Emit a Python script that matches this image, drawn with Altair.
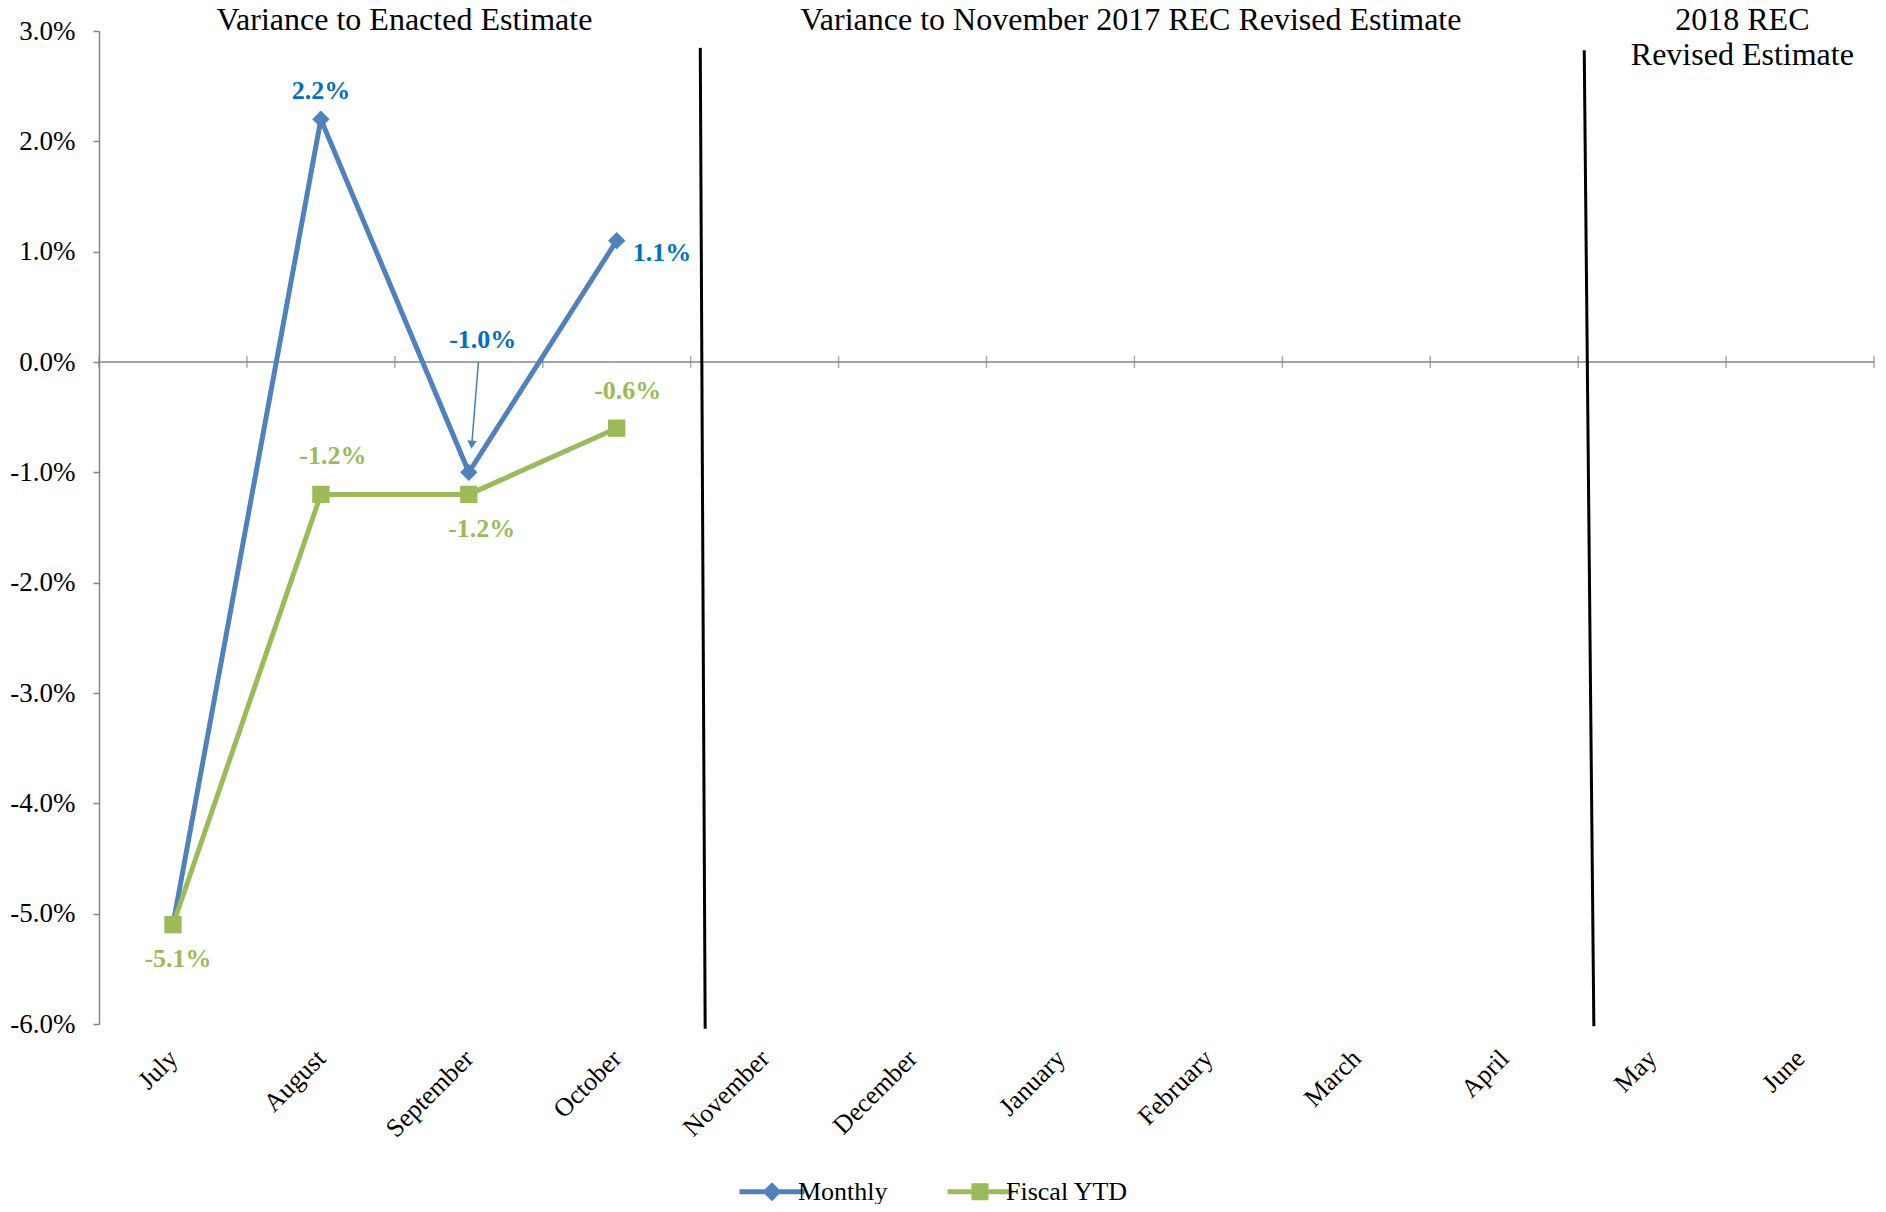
import altair as alt
import pandas as pd

# ---------------- data ----------------
months = ["July", "August", "September", "October", "November", "December",
          "January", "February", "March", "April", "May", "June"]
monthly = [-5.1, 2.2, -1.0, 1.1]
fiscal_ytd = [-5.1, -1.2, -1.2, -0.6]
series_names = ["Monthly", "Fiscal YTD"]
y_ticks = [-6, -5, -4, -3, -2, -1, 0, 1, 2, 3]

# ---------------- styles ----------------
FONT = "Liberation Serif"
line_colors = ["#4F81BD", "#9BBB59"]
label_colors = ["#0070C0", "#9BBB59"]
marker_shapes = ["diamond", "square"]

# label placement: (series, month index) -> (dx, dy, align)
label_offsets = {
    ("Monthly", 1): (0, -28, "center"),
    ("Monthly", 2): (14, -132, "center"),
    ("Monthly", 3): (16, 12, "left"),
    ("Fiscal YTD", 0): (5, 34, "center"),
    ("Fiscal YTD", 1): (12, -38, "center"),
    ("Fiscal YTD", 2): (13, 35, "center"),
    ("Fiscal YTD", 3): (11, -37, "center"),
}

# section headings (x in month-index units, y in percent units, text baseline)
headings = [
    ("Variance to Enacted Estimate", 1.565, 3.0),
    ("Variance to November 2017 REC Revised Estimate", 6.476, 3.0),
    ("2018 REC", 10.61, 3.0),
    ("Revised Estimate", 10.61, 2.68),
]
# divider lines between periods
dividers = [(3.565, 2.847, 3.598, -6.043), (9.541, 2.825, 9.606, -6.02)]
# arrow for the September Monthly label
arrow = (2.065, 0.0, 2.02, -0.75)

rows = []
for name, vals in zip(series_names, [monthly, fiscal_ytd]):
    for i, v in enumerate(vals):
        rows.append({"series": name, "idx": i, "month": months[i], "value": v,
                     "label": f"{v:.1f}%"})
df = pd.DataFrame(rows)

x_scale = alt.Scale(domain=[-0.5, 11.5], nice=False, zero=False)
y_scale = alt.Scale(domain=[-6, 3], nice=False, zero=False)

month_js = "[" + ",".join(f"'{m}'" for m in months) + "]"

x_axis = alt.Axis(values=list(range(12)), labelExpr=f"{month_js}[datum.value]",
                  title=None, domain=False, ticks=False, grid=False,
                  labelAngle=-45, labelAlign="right", labelBaseline="middle",
                  labelFont=FONT, labelFontSize=26, labelColor="black",
                  labelPadding=30, labelOverlap=False)
y_axis = alt.Axis(values=y_ticks,
                  labelExpr="(datum.value < 0 ? '-' : '') + format(abs(datum.value), '.1f') + '%'",
                  title=None, grid=False, domainColor="#868686", domainWidth=1.5,
                  tickColor="#868686", tickWidth=1.5, tickSize=6, labelPadding=18,
                  labelFont=FONT, labelFontSize=27, labelColor="black")


def xq(f):
    return alt.X(f, scale=x_scale, axis=x_axis)


def yq(f):
    return alt.Y(f, scale=y_scale, axis=y_axis)


color_scale = alt.Scale(domain=series_names, range=line_colors)

# legend symbols: a line with the series marker on it
sym_m = "M-1,0L1.32,0M0.16,-0.214L0.374,0L0.16,0.214L-0.054,0Z"
sym_f = "M-1,0L1.32,0M-0.054,-0.214L0.374,-0.214L0.374,0.214L-0.054,0.214Z"
legend_shape_scale = alt.Scale(domain=series_names, range=[sym_m, sym_f])
legend = alt.Legend(
    orient="none", legendX=638, legendY=1130, direction="horizontal", title=None,
    labelFont=FONT, labelFontSize=26, labelColor="black", labelOffset=0,
    symbolSize=3136, symbolStrokeWidth=5, symbolOpacity=1, columnPadding=49, padding=0)

base = alt.Chart(df)

bounds = alt.Chart(pd.DataFrame({"b": [i - 0.5 for i in range(13)], "z": [0] * 13})).mark_tick(
    orient="vertical", size=12, thickness=1.5, color="#868686").encode(
    x=xq("b:Q"), y=yq("z:Q"))

zero_line = alt.Chart(pd.DataFrame({"z": [0]})).mark_rule(
    color="#868686", strokeWidth=1.5).encode(y=yq("z:Q"))

div_df = pd.DataFrame(dividers, columns=["x", "y", "x2", "y2"])
div_rules = alt.Chart(div_df).mark_rule(color="black", strokeWidth=3).encode(
    x=xq("x:Q"), y=yq("y:Q"), x2="x2:Q", y2="y2:Q")

line_layers = []
point_layers = []
for sname, col, shp in zip(series_names, line_colors, marker_shapes):
    sub = base.transform_filter(alt.datum.series == sname)
    line_layers.append(sub.mark_line(strokeWidth=5, color=col).encode(
        x=xq("idx:Q"), y=yq("value:Q"), order=alt.Order("idx:Q")))
    point_layers.append(sub.mark_point(
        filled=True, opacity=1, size=300, shape=shp, color=col).encode(
        x=xq("idx:Q"), y=yq("value:Q")))

# legend-only layer (its marks are clipped away, only the legend remains)
legend_layer = base.mark_point(filled=True, opacity=1, clip=True, strokeWidth=5).encode(
    x=xq("idx:Q"), y=alt.YDatum(40, scale=y_scale, axis=y_axis),
    fill=alt.Fill("series:N", scale=color_scale, legend=legend),
    stroke=alt.Stroke("series:N", scale=color_scale, legend=legend),
    shape=alt.Shape("series:N", scale=legend_shape_scale, legend=legend))

arrow_df = pd.DataFrame([arrow], columns=["x", "y", "x2", "y2"])
arrow_line = alt.Chart(arrow_df).mark_rule(color="#4A7EBB", strokeWidth=1.5).encode(
    x=xq("x:Q"), y=yq("y:Q"), x2="x2:Q", y2="y2:Q")
arrow_head = alt.Chart(arrow_df).mark_point(shape="triangle-down", filled=True, opacity=1,
                                            size=90, color="#4A7EBB", angle=4).encode(
    x=xq("x2:Q"), y=yq("y2:Q"))

label_layers = []
for (sname, idx), (dx, dy, align) in label_offsets.items():
    col = label_colors[series_names.index(sname)]
    label_layers.append(
        base.transform_filter(
            (alt.datum.series == sname) & (alt.datum.idx == idx)
        ).mark_text(font=FONT, fontSize=26, fontWeight="bold", color=col,
                    dx=dx, dy=dy, align=align, baseline="middle").encode(
            x=xq("idx:Q"), y=yq("value:Q"), text="label:N"))

head_df = pd.DataFrame(headings, columns=["text", "x", "y"])
head_text = alt.Chart(head_df).mark_text(font=FONT, fontSize=32, color="black",
                                          baseline="alphabetic", align="center", dy=-1).encode(
    x=xq("x:Q"), y=yq("y:Q"), text="text:N")

chart = alt.layer(
    bounds, zero_line, div_rules, *line_layers, *point_layers, legend_layer,
    arrow_line, arrow_head, *label_layers, head_text
).properties(
    width=1775, height=993,
    autosize=alt.AutoSizeParams(type="none"),
    padding={"left": 91, "top": 23, "right": 4, "bottom": 180},
    background="white",
).configure_view(stroke=None)

chart.save("out.html", embed_options={"renderer": "svg", "actions": False})
